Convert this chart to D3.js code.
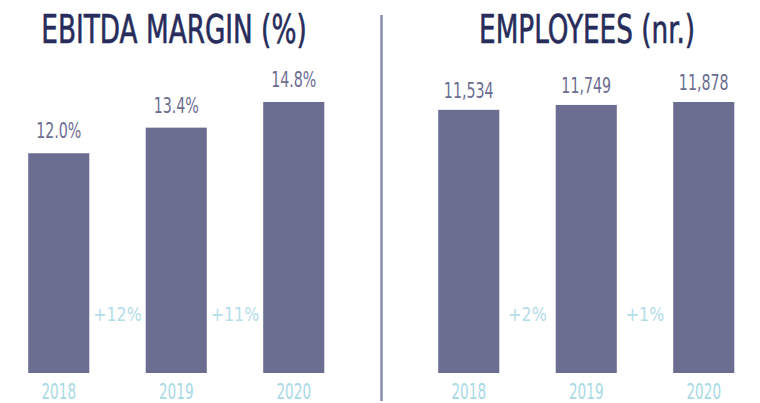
<!doctype html>
<html>
<head>
  <meta charset="utf-8">
  <title>EBITDA margin and employees</title>
  <style>
  html, body { margin: 0; padding: 0; background: #fff; }
  svg { display: block; }
  text { font-family: "DejaVu Sans Condensed", "DejaVu Sans", sans-serif; }
  </style>
</head>
<body>
  <div id="vis"></div>
  <script src="https://d3js.org/d3.v7.min.js"></script>
  <script>
  var years = ['2018', '2019', '2020'];
  var ebitdaMargin = [12.0, 13.4, 14.8];
  var employees = [11534, 11749, 11878];
  var ebitdaGrowth = ['+12%', '+11%'];
  var employeeGrowth = ['+2%', '+1%'];

  var width = 760;
  var height = 403;
  var baseY = 373;
  var topY = 102;

  var barColor = '#6b6d91';
  var titleColor = '#272c5b';
  var yearColor = '#a8d9e5';
  var growthColor = '#b3dde8';

  var svg = d3.select('#vis')
    .append('svg')
    .attr('width', width)
    .attr('height', height);

  // divider between the two panels
  svg.append('line')
    .attr('x1', 381.5).attr('x2', 381.5)
    .attr('y1', 15).attr('y2', 401)
    .attr('stroke', '#8c8db5')
    .attr('stroke-width', 2.5);

  // the original font is very condensed, so squeeze horizontally
  function squeezedText(g, x, y, str, size, color, sx) {
    return g.append('text')
      .attr('transform', 'translate(' + x + ',' + y + ') scale(' + sx + ',1)')
      .attr('text-anchor', 'middle')
      .attr('font-size', size)
      .attr('fill', color)
      .text(str);
  }

  function panel(opts) {
    var g = svg.append('g');

    var x = d3.scaleBand()
      .domain(years)
      .range(opts.range)
      .paddingInner(0.48)
      .paddingOuter(0.24);

    var y = d3.scaleLinear()
      .domain([0, d3.max(opts.values)])
      .range([baseY, topY]);

    var rows = years.map(function(yr, i){ return { year: yr, value: opts.values[i] }; });

    g.selectAll('rect').data(rows)
      .enter().append('rect')
        .attr('x', function(d){ return x(d.year); })
        .attr('y', function(d){ return y(d.value); })
        .attr('width', x.bandwidth())
        .attr('height', function(d){ return baseY - y(d.value); })
        .attr('fill', barColor);

    rows.forEach(function(d){
      var cx = x(d.year) + x.bandwidth() / 2;
      squeezedText(g, cx, y(d.value) - opts.gap, opts.format(d.value), 22, barColor, 0.72);
      squeezedText(g, cx, 399, d.year, 21, yearColor, 0.72);
    });

    opts.growth.forEach(function(label, i){
      var gx = (x(years[i]) + x.bandwidth() + x(years[i + 1])) / 2;
      squeezedText(g, gx, 321, label, 20, growthColor, 0.88);
    });

    squeezedText(g, opts.titleX, 43, opts.title, 39, titleColor, 0.75)
      .attr('stroke', titleColor)
      .attr('stroke-width', 0.6);
  }

  panel({
    title: 'EBITDA MARGIN (%)',
    titleX: 174,
    values: ebitdaMargin,
    growth: ebitdaGrowth,
    range: [0, 352.5],
    gap: 15,
    format: function(v){ return d3.format('.1f')(v) + '%'; }
  });

  panel({
    title: 'EMPLOYEES (nr.)',
    titleX: 587,
    values: employees,
    growth: employeeGrowth,
    range: [410, 762.5],
    gap: 12,
    format: d3.format(',')
  });
  </script>
</body>
</html>
